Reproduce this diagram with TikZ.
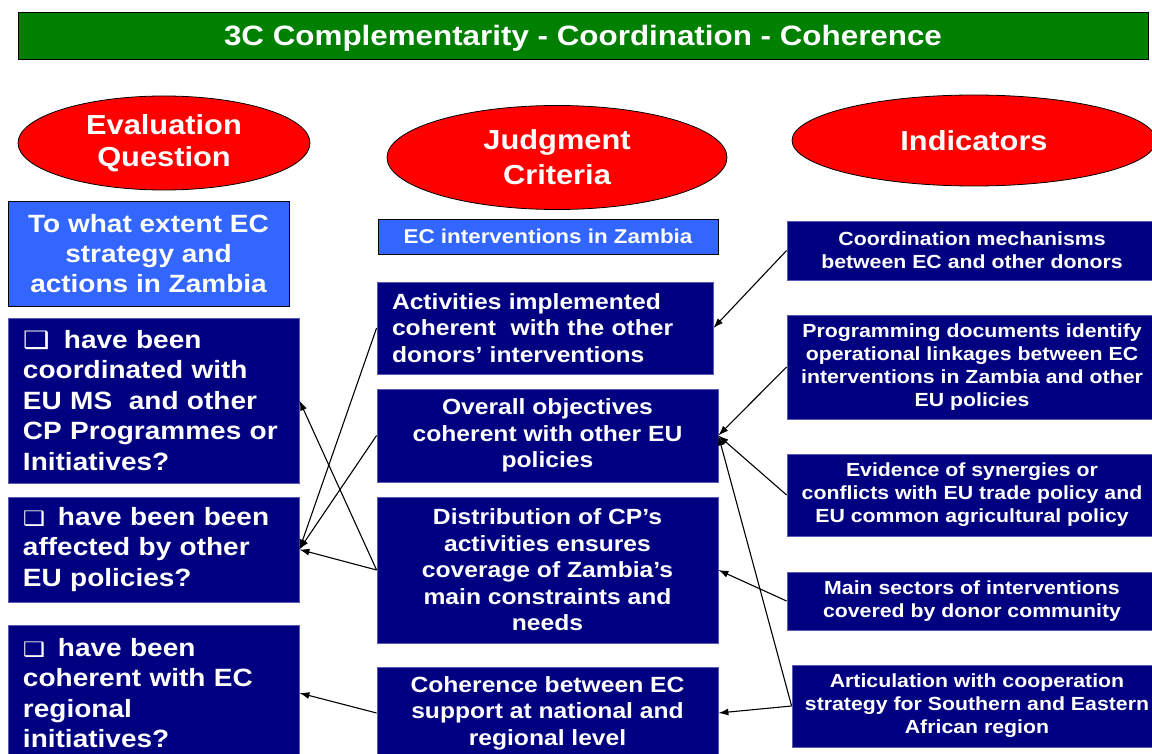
\documentclass[tikz,border=0pt]{standalone}
\usepackage{fontspec}
\setmainfont{Liberation Sans}[FakeStretch=1.12]
\newfontfamily\symfont{DejaVu Sans}[FakeStretch=1.25]
\usetikzlibrary{shapes.geometric,arrows.meta}

\definecolor{barGreen}{HTML}{008000}
\definecolor{ovalRed}{HTML}{FF0000}
\definecolor{skyBlue}{HTML}{3366FF}
\definecolor{navyBox}{HTML}{000080}
\definecolor{navyEdge}{HTML}{5A5AB4}

% shadowed check box in front of each question: #1 glyph size, #2 room it takes
\newcommand{\chk}[2]{\makebox[#2][l]{\smash{\symfont\fontsize{#1}{#1}\selectfont ❑}}}

\begin{document}
\begin{tikzpicture}[x=1pt,y=-1pt,
  titlebar/.style={draw=black,line width=1pt,fill=barGreen,text=white,inner sep=0pt,
    text height=33pt,text depth=14pt,font=\bfseries\fontsize{28}{32}\selectfont},
  oval/.style={ellipse,draw=black,line width=0.8pt,fill=ovalRed,text=white,inner sep=0pt,
    align=center,font=\bfseries\fontsize{27.5}{35}\selectfont},
  lightbox/.style={rectangle,draw=black,line width=0.8pt,fill=skyBlue,text=white,inner sep=0pt,
    align=center},
  navybox/.style={rectangle,draw=navyEdge,line width=0.8pt,fill=navyBox,text=white,inner sep=0pt},
  askbox/.style={lightbox,font=\bfseries\fontsize{25}{30}\selectfont},
  qbox/.style={navybox,inner xsep=15pt,text width=261pt,align=left,
    font=\bfseries\fontsize{25}{30.5}\selectfont},
  critbox/.style={navybox,align=center,font=\bfseries\fontsize{22}{26.5}\selectfont},
  indbox/.style={navybox,align=center,font=\bfseries\fontsize{19}{23}\selectfont},
  link/.style={draw=black,line width=1.1pt,-{Latex[length=10pt,width=7pt]}}
]
\useasboundingbox (0,0) rectangle (1152,754);
\fill[white] (0,0) rectangle (1152,754);

% heading bar
\node[titlebar,minimum width=1130] (title) at (583,36.5)
  {3C Complementarity - Coordination - Coherence};

% column headings
\node[oval,minimum width=292,minimum height=94] (eq) at (164,143) {\raisebox{-3pt}{Evaluation}\\Question};
\node[oval,minimum width=340,minimum height=104] (jc) at (557,157.5) {Judgment\\Criteria};
\node[oval,minimum width=364,minimum height=91] (ind) at (974,140.5) {Indicators};

% evaluation question column
\node[askbox,minimum width=281,minimum height=105] (ask) at (148.5,253.5)
  {To what extent EC\\strategy and\\actions in Zambia};
\node[qbox,minimum height=165] (q1) at (153.5,400.5)
  {\chk{24}{41pt}have been\\coordinated with\\EU MS\ \ and other\\CP Programmes or\\Initiatives?};
\node[qbox,minimum height=105] (q2) at (153.5,549.5)
  {\chk{20}{35pt}have been been\\affected by other\\EU policies?};
\node[qbox,minimum height=136] (q3) at (153.5,693)
  {\chk{20}{35pt}have been\\coherent with EC\\regional\\initiatives?};

% judgment criteria column
\node[lightbox,minimum width=340,minimum height=35,font=\bfseries\fontsize{20}{24}\selectfont]
  (ecz) at (548,236.5) {EC interventions in Zambia};
\node[navybox,minimum width=336,minimum height=92,inner xsep=15pt,text width=306pt,align=left,
  font=\bfseries\fontsize{22}{26.5}\selectfont] (m1) at (545,328)
  {Activities implemented\\coherent\ \ with the other\\donors’ interventions};
\node[critbox,minimum width=341,minimum height=93] (m2) at (547.5,435.5)
  {Overall objectives\\coherent with other EU\\policies};
\node[critbox,minimum width=341,minimum height=146] (m3) at (547.5,570)
  {Distribution of CP’s\\activities ensures\\coverage of Zambia’s\\main constraints and\\needs};
\node[critbox,minimum width=341,minimum height=92] (m4) at (547.5,713)
  {Coherence between EC\\support at national and\\regional level};

% indicators column
\node[indbox,minimum width=370,minimum height=59] (r1) at (972,250.5)
  {Coordination mechanisms\\between EC and other donors};
\node[indbox,minimum width=370,minimum height=104] (r2) at (972,367)
  {Programming documents identify\\operational linkages between EC\\interventions in Zambia and other\\EU policies};
\node[indbox,minimum width=370,minimum height=82] (r3) at (972,495)
  {Evidence of synergies or\\conflicts with EU trade policy and\\EU common agricultural policy};
\node[indbox,minimum width=370,minimum height=58] (r4) at (972,601)
  {Main sectors of interventions\\covered by donor community};
\node[indbox,minimum width=370,minimum height=82] (r5) at (977,706)
  {Articulation with cooperation\\strategy for Southern and Eastern\\African region};

% indicators feed the criteria
\draw[link] (r1.west) -- (m1.east);
\draw[link] (r2.west) -- (m2.east);
\draw[link] (r3.west) -- (m2.east);
\draw[link] (r5.west) -- (m2.east);
\draw[link] (r4.west) -- (m3.east);
\draw[link] (r5.west) -- (m4.east);

% criteria answer the questions
\draw[link] (m1.west) -- (q2.east);
\draw[link] (m2.west) -- (q2.east);
\draw[link] (m3.west) -- (q2.east);
\draw[link] (m3.west) -- (q1.east);
\draw[link] (m4.west) -- (q3.east);
\end{tikzpicture}
\end{document}
